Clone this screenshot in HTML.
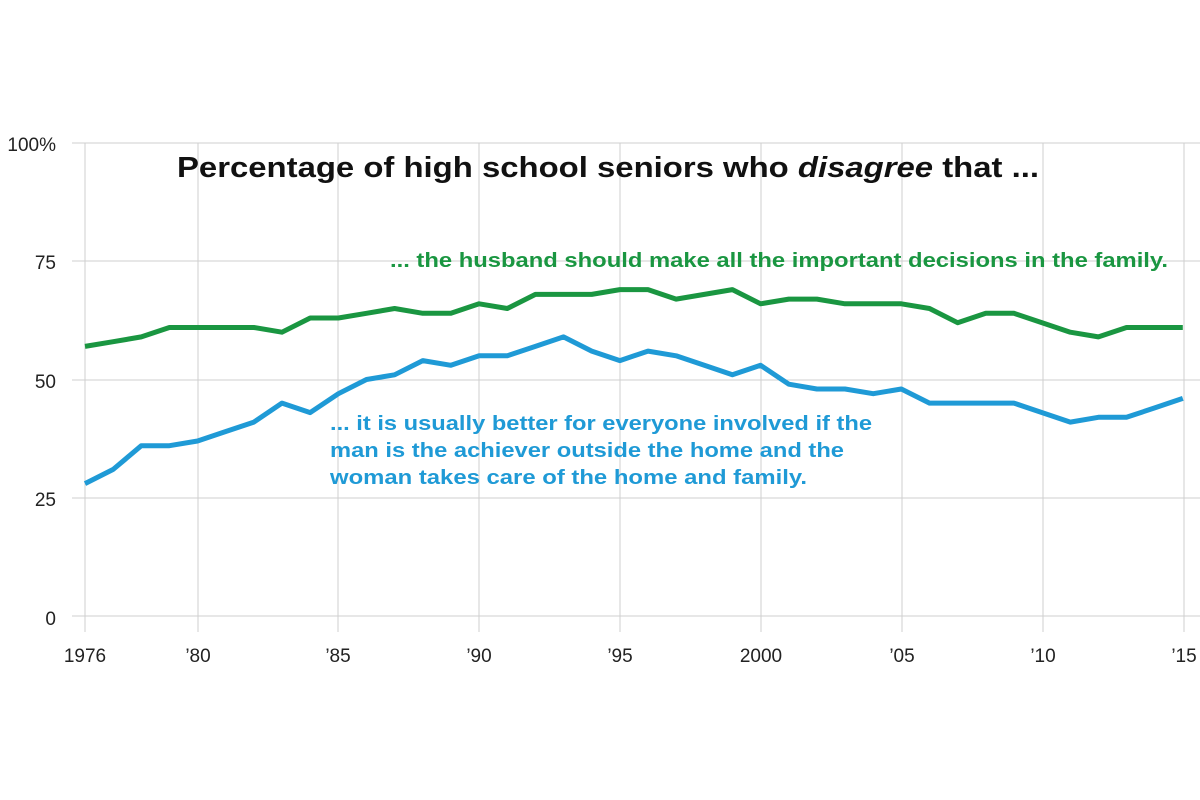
<!DOCTYPE html>
<html><head><meta charset="utf-8"><style>
html,body{margin:0;padding:0;background:#fff;}
svg{display:block;font-family:"Liberation Sans",sans-serif;}
</style></head><body>
<svg width="1200" height="800" viewBox="0 0 1200 800">
<g stroke="#cfcfcf" stroke-width="1">
<line x1="72" y1="143" x2="1200" y2="143"/>
<line x1="72" y1="261" x2="1200" y2="261"/>
<line x1="72" y1="380" x2="1200" y2="380"/>
<line x1="72" y1="498" x2="1200" y2="498"/>
<line x1="72" y1="616" x2="1200" y2="616"/>
<line x1="85" y1="143" x2="85" y2="632"/>
<line x1="198" y1="143" x2="198" y2="632"/>
<line x1="338" y1="143" x2="338" y2="632"/>
<line x1="479" y1="143" x2="479" y2="632"/>
<line x1="620" y1="143" x2="620" y2="632"/>
<line x1="761" y1="143" x2="761" y2="632"/>
<line x1="902" y1="143" x2="902" y2="632"/>
<line x1="1043" y1="143" x2="1043" y2="632"/>
<line x1="1184" y1="143" x2="1184" y2="632"/>
</g>
<g font-size="19" fill="#222" text-anchor="end">
<text x="56" y="151">100%</text>
<text x="56" y="269">75</text>
<text x="56" y="388">50</text>
<text x="56" y="506">25</text>
<text x="56" y="625">0</text>
</g>
<g font-size="19" fill="#222" text-anchor="middle">
<text x="85" y="662">1976</text>
<text x="198" y="662">’80</text>
<text x="338" y="662">’85</text>
<text x="479" y="662">’90</text>
<text x="620" y="662">’95</text>
<text x="761" y="662">2000</text>
<text x="902" y="662">’05</text>
<text x="1043" y="662">’10</text>
<text x="1184" y="662">’15</text>
</g>
<text x="177" y="177" font-size="29" font-weight="bold" fill="#111" textLength="862" lengthAdjust="spacingAndGlyphs">Percentage of high school seniors who <tspan font-style="italic">disagree</tspan> that ...</text>
<text x="390" y="267" font-size="20" font-weight="bold" fill="#1a9641" textLength="778" lengthAdjust="spacingAndGlyphs">... the husband should make all the important decisions in the family.</text>
<g font-size="20" font-weight="bold" fill="#1f9ad6">
<text x="330" y="430" textLength="542" lengthAdjust="spacingAndGlyphs">... it is usually better for everyone involved if the</text>
<text x="330" y="457" textLength="514" lengthAdjust="spacingAndGlyphs">man is the achiever outside the home and the</text>
<text x="330" y="484" textLength="477" lengthAdjust="spacingAndGlyphs">woman takes care of the home and family.</text>
</g>
<polyline id="g" fill="none" stroke="#1a9641" stroke-width="5" stroke-linejoin="round"/>
<polyline id="b" fill="none" stroke="#1f9ad6" stroke-width="5" stroke-linejoin="round"/>
<script>
var G=[57,58,59,61,61,61,61,60,63,63,64,65,64,64,66,65,68,68,68,69,69,67,68,69,66,67,67,66,66,66,65,62,64,64,62,60,59,61,61,61];
var B=[28,31,36,36,37,39,41,45,43,47,50,51,54,53,55,55,57,59,56,54,56,55,53,51,53,49,48,48,47,48,45,45,45,45,43,41,42,42,44,46];
function pts(a){return a.map(function(v,i){return (85+i*28.15).toFixed(1)+","+(616-v*4.73).toFixed(1)}).join(" ")}
document.getElementById("g").setAttribute("points",pts(G));
document.getElementById("b").setAttribute("points",pts(B));
</script>
</svg>
</body></html>
